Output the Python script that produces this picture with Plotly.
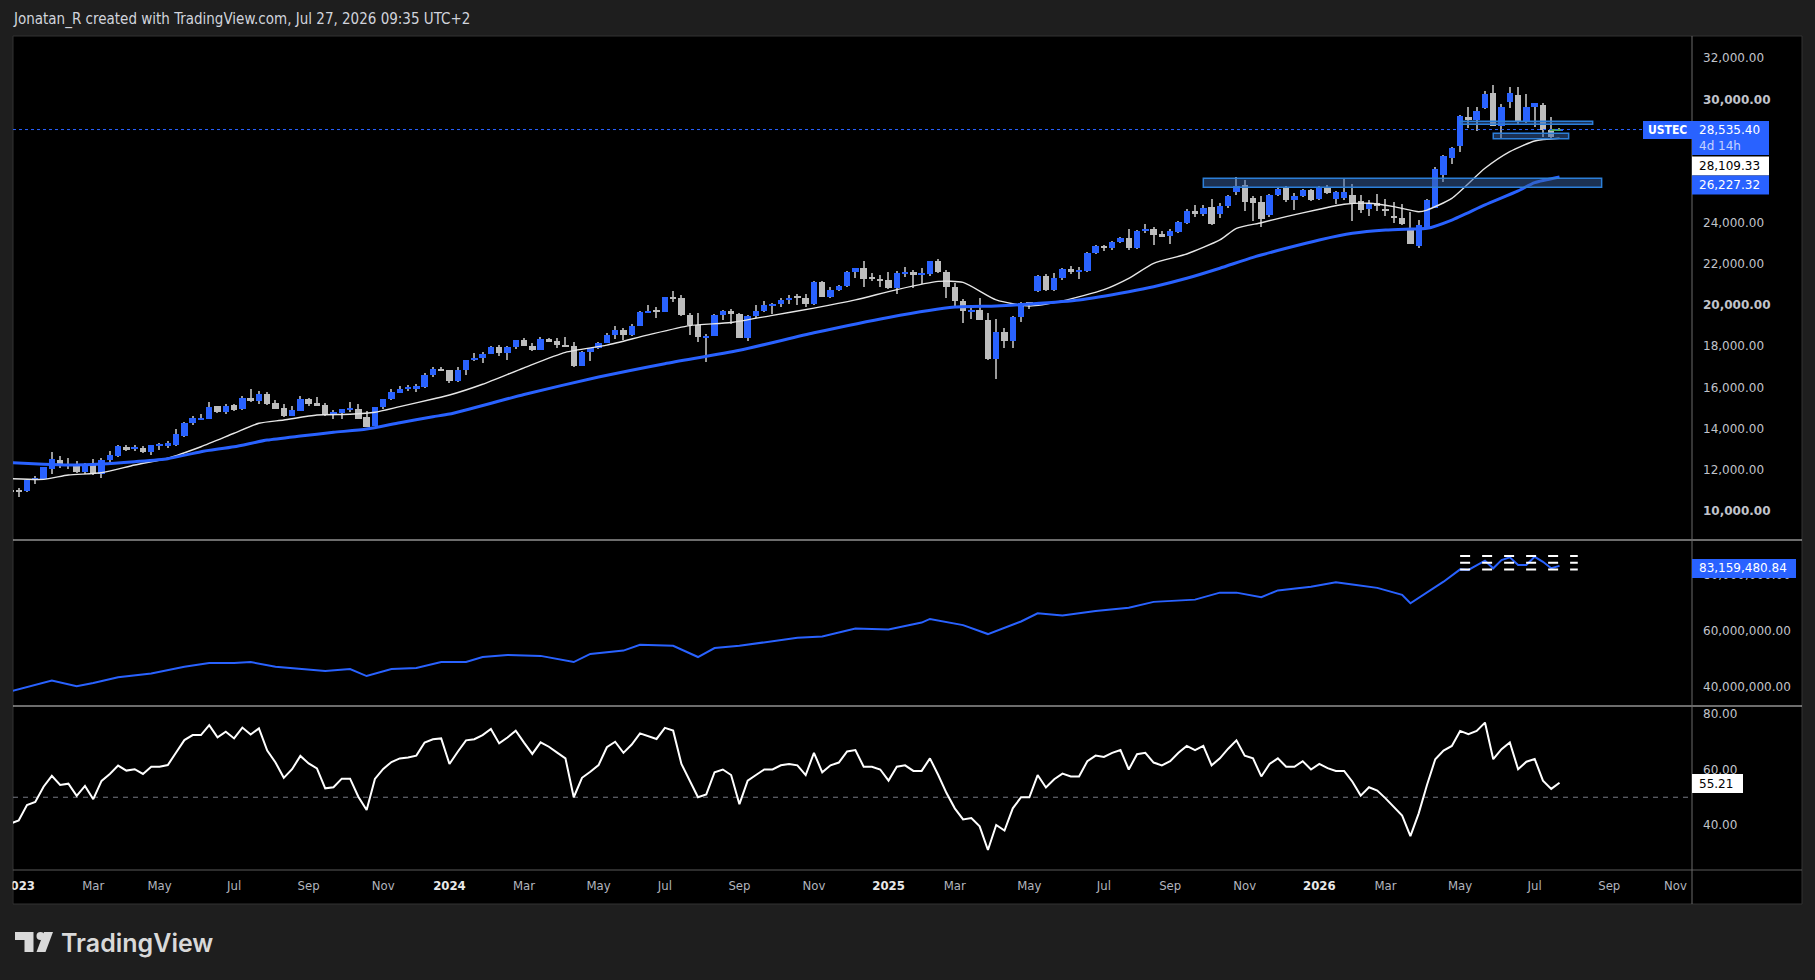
import pandas as pd
import plotly.graph_objects as go

W, H = 1815, 980

# ---------------- data (weekly bars, first bar = week of 2022-12-26) ----------------
first_week = "2022-12-26"
opens = [11000, 10980, 10950, 11500, 11525, 12040, 12465, 12240, 12270, 11895,
         12205, 11785, 12465, 12675, 13080, 13040, 13050, 12855, 13180, 13160,
         13210, 13650, 14280, 14440, 14475, 15090, 14815, 15150, 14930, 15465,
         15350, 15675, 15220, 14995, 14620, 14860, 15430, 15220, 15140, 14720,
         14740, 14900, 14930, 14540, 14135, 15060, 15445, 15740, 15920, 15950,
         16000, 16620, 16880, 16826, 16300, 16830, 17310, 17420, 17640, 17960,
         17690, 17940, 18300, 18000, 17810, 18340, 18250, 18050, 18000, 17040,
         17720, 17890, 18160, 18550, 18810, 18540, 19000, 19660, 19700, 19680,
         20390, 20330, 19520, 19020, 18440, 18510, 19510, 19720, 19570, 18420,
         19460, 19690, 20000, 20060, 20270, 20360, 20350, 20030, 21120, 20390,
         20740, 20930, 21620, 21780, 21290, 21280, 21200, 20850, 21540, 21600,
         21480, 21490, 22120, 21610, 20880, 20200, 19700, 19750, 19280, 17400,
         18690, 18260, 19430, 20100, 20700, 21430, 20740, 21340, 21760, 21630,
         21640, 22530, 22870, 22780, 23070, 23270, 22760, 23610, 23700, 23440,
         23360, 23570, 23990, 24575, 24430, 24770, 24430, 24820, 25500, 25840,
         25190, 25010, 24380, 25350, 25700, 25110, 25320, 25600, 25160, 25730,
         25160, 25220, 25350, 25040, 24690, 24980, 24620, 24280, 24220, 23700,
         22890, 23780, 24735, 26325, 27165, 27750, 29150, 29015, 29600, 30310,
         28720, 29890, 30215, 28920, 29630, 29730, 28515, 28500]
highs = [11080, 11100, 11560, 11700, 12130, 12855, 12640, 12560, 12400, 12300,
         12500, 12580, 12880, 13190, 13200, 13200, 13150, 13200, 13280, 13400,
         13960, 14300, 14600, 14700, 15280, 15100, 15200, 15180, 15600, 15930,
         15800, 15750, 15400, 15200, 15100, 15600, 15470, 15550, 15250, 14900,
         14950, 15300, 15200, 14850, 15050, 15450, 15900, 16050, 16120, 16150,
         16700, 16970, 16970, 16850, 16970, 17340, 17660, 17700, 18000, 18050,
         18000, 18320, 18420, 18150, 18460, 18400, 18380, 18450, 18220, 17770,
         17900, 18200, 18640, 19000, 18900, 19100, 19720, 19980, 19900, 20400,
         20690, 20480, 19600, 19600, 18600, 19550, 19750, 19790, 19600, 19500,
         19990, 20200, 20100, 20320, 20470, 20550, 20560, 21150, 21180, 20900,
         20970, 21650, 21800, 22130, 21550, 21480, 21620, 21640, 21840, 21700,
         21800, 22130, 22220, 21700, 21080, 20280, 20000, 20350, 19600, 19340,
         18880, 19480, 20150, 20150, 21450, 21500, 21550, 21800, 21900, 21850,
         22580, 22900, 22900, 23100, 23300, 23700, 23630, 23930, 23810, 23600,
         23700, 24100, 24650, 24850, 24850, 25150, 24980, 25350, 26210, 26080,
         25290, 25300, 25400, 25700, 25790, 25430, 25650, 25650, 25780, 25850,
         25550, 26165, 25890, 25350, 25100, 25400, 25140, 25030, 24900, 24540,
         24140, 25150, 26700, 27300, 27700, 29240, 29620, 29650, 30410, 30700,
         29780, 30590, 30620, 30260, 29825, 29825, 29150, 28620]
lows = [10680, 10650, 10900, 11300, 11480, 11770, 12100, 12050, 11850, 11800,
        11720, 11600, 12350, 12600, 12920, 12880, 12800, 12700, 12950, 13050,
        13150, 13600, 14150, 14400, 14450, 14750, 14700, 14850, 14880, 15300,
        15200, 15150, 14950, 14550, 14600, 14850, 15080, 15080, 14600, 14450,
        14450, 14800, 14450, 14050, 14100, 14950, 15400, 15700, 15800, 15750,
        15950, 16500, 16790, 16200, 16250, 16600, 17280, 17200, 17600, 17500,
        17350, 17840, 17990, 17770, 17810, 18200, 17900, 17960, 17010, 17040,
        17300, 17850, 18150, 18350, 18300, 18500, 19000, 19630, 19360, 19650,
        20140, 19480, 18560, 18200, 17250, 18480, 19250, 19100, 18400, 18250,
        19350, 19650, 19560, 19900, 20050, 20020, 19900, 20000, 20380, 20320,
        20700, 20900, 21300, 20900, 21180, 20900, 20790, 20540, 21360, 20840,
        21040, 21400, 21580, 20350, 19950, 19150, 19300, 19250, 17350, 16400,
        17900, 17920, 19200, 19800, 20650, 20700, 20700, 21200, 21500, 21250,
        21600, 22500, 22650, 22670, 23000, 22700, 22740, 23500, 22920, 23300,
        22950, 23500, 23950, 24300, 24350, 23900, 24210, 24700, 25350, 24590,
        24100, 23810, 24300, 25300, 25000, 24620, 25250, 25050, 25100, 25400,
        24900, 25100, 24100, 24460, 24330, 24590, 24330, 23980, 23900, 22950,
        22760, 23700, 24700, 26000, 26845, 27460, 28625, 28480, 29550, 28700,
        28140, 29570, 28805, 28850, 28670, 28190, 28060, 28470]
closes = [10950, 10950, 11495, 11560, 12110, 12500, 12175, 12200, 11895, 12270,
          11785, 12465, 12690, 13145, 12950, 13060, 12870, 13180, 13220, 13280,
          13730, 14250, 14505, 14470, 15030, 14815, 15090, 14900, 15465, 15335,
          15675, 15200, 14960, 14620, 14900, 15430, 15190, 15100, 14650, 14750,
          14930, 15000, 14475, 14085, 15030, 15415, 15770, 15905, 16030, 16040,
          16620, 16880, 16826, 16300, 16830, 17310, 17420, 17640, 17960, 17690,
          17940, 18300, 18000, 17810, 18340, 18250, 18050, 18000, 17040, 17720,
          17890, 18160, 18550, 18810, 18540, 19000, 19660, 19700, 19680, 20390,
          20330, 19520, 19020, 18440, 18510, 19510, 19720, 19570, 18420, 19460,
          19690, 20000, 20060, 20270, 20360, 20350, 20030, 21120, 20390, 20740,
          20930, 21620, 21780, 21290, 21280, 21200, 20850, 21540, 21600, 21480,
          21490, 22120, 21610, 20880, 20200, 19700, 19750, 19280, 17400, 18690,
          18260, 19430, 20100, 20060, 21430, 20740, 21340, 21760, 21630, 21640,
          22530, 22870, 22780, 23070, 23270, 22760, 23610, 23710, 23410, 23325,
          23600, 24040, 24575, 24430, 24705, 23940, 24820, 25300, 25790, 25030,
          24980, 24200, 25350, 25630, 25110, 25300, 25600, 25110, 25730, 25460,
          25480, 25480, 24950, 24620, 24950, 24830, 24610, 24270, 23930, 22985,
          23890, 25110, 26620, 27250, 27620, 29195, 29015, 29440, 30260, 28720,
          29630, 30310, 28935, 29630, 29825, 28515, 28160, 28535]

# RSI, one value per weekly bar (same bars as above)
rsi_values = [40.5,
              41.6, 47.2, 48.3, 53.8, 57.7, 54.4, 54.9, 50.5, 54.1, 49.3,
              55.9, 58.4, 61.4, 59.6, 60.1, 58.4, 61.0, 61.0, 61.6, 66.1,
              70.6, 72.4, 72.4, 76.0, 71.6, 73.6, 71.2, 75.1, 72.6, 74.8,
              66.8, 62.5, 57.0, 60.1, 64.9, 62.2, 60.4, 53.2, 53.6, 56.7,
              56.7, 50.2, 45.4, 56.6, 60.2, 62.7, 64.0, 64.3, 65.0, 69.7,
              70.9, 71.2, 62.0, 66.4, 70.5, 70.9, 72.4, 74.6, 69.4, 71.5,
              74.0, 69.7, 65.6, 69.8, 68.2, 66.1, 64.0, 50.0, 57.0, 59.2,
              61.6,
              68, 70, 66, 69, 73, 72, 71, 75, 74,
              62, 56, 50, 51, 59, 60, 58, 47.5, 56, 58,
              60, 60, 61.5, 62, 61.5, 58, 66, 59, 61.5, 62.5,
              66.5, 67, 61, 61, 60, 56, 61, 61.5, 59.5, 59.5,
              64, 58, 51.5, 46, 42, 42.5, 39.5, 31, 40, 38,
              46, 50, 50, 58, 53.5, 56.5, 58.5, 57.5, 57.5, 63,
              65, 64.5, 66, 67, 60, 65.5, 66, 62.5, 61.5, 63,
              66, 68.5, 67, 68.5, 61.5, 64, 67.5, 70.5, 65, 64,
              57.5, 62, 64, 61, 61, 63, 60, 62, 60.5, 59.5,
              59.5,
              55.6, 50.6, 53.6, 52.4, 49.6, 46.6, 43.4, 36.0, 44.2, 54.4,
              63.7, 66.8, 68.5, 73.9, 72.7, 73.9, 76.9, 63.7, 67.3, 69.7,
              60.1, 62.8, 63.8, 56.0, 53.0, 55.2]

# moving averages (week number counted from 2023-01-02)
white_ma_weeks = [-1, 3, 6, 10, 14, 18, 22, 26, 29, 32, 36, 40, 43, 46, 50, 52, 56, 61, 66, 71,
                  76, 81, 86, 91, 96, 101, 106, 111, 114, 118, 122, 126, 131, 134, 137, 141, 145,
                  147, 150, 153, 157, 160, 163, 166, 169, 170, 173, 177, 180, 183, 186]
white_ma_values = [11560, 11525, 11735, 11845, 12220, 12550, 13110, 13765, 14250, 14410,
                   14655, 14690, 14785, 15060, 15430, 15625, 16150, 16950, 17700, 18050,
                   18550, 19000, 19150, 19500, 19850, 20250, 20750, 21150, 21100, 20250,
                   19950, 20200, 20750, 21300, 22030, 22483, 23165, 23730, 24005, 24300,
                   24660, 24900, 24950, 24785, 24540, 24620, 25190, 26650, 27460, 27980, 28109]
blue_ma_weeks = [-1, 3, 6, 10, 14, 18, 22, 26, 30, 34, 38, 42, 46, 50, 52, 61, 70, 78, 87, 96,
                 105, 113, 118, 122, 128, 134, 137, 141, 145, 149, 153, 157, 161, 165, 168, 170,
                 173, 177, 181, 183, 186]
blue_ma_values = [12335, 12255, 12220, 12270, 12385, 12530, 12870, 13110, 13435, 13630,
                  13810, 13970, 14280, 14570, 14700, 15650, 16500, 17150, 17800, 18650,
                  19400, 19900, 19950, 20050, 20250, 20650, 20890, 21300, 21790, 22320,
                  22760, 23165, 23490, 23650, 23700, 23730, 24135, 24870, 25550, 25950, 26227]

# middle-pane indicator (millions), week number counted from 2023-01-02
flow_weeks = [-1, 4, 7, 9, 12, 16, 20, 23, 26, 28, 31, 34, 37, 40, 42, 45, 48, 51, 54, 56,
              59, 63, 67, 69, 73, 75, 79, 82, 84, 87, 90, 94, 97, 101, 105, 109, 110, 114, 117, 118,
              121, 123, 126, 130, 134, 137, 142, 145, 147, 150, 152, 156, 159, 161, 164, 167, 168,
              172, 174, 175, 177, 178, 179, 180, 181, 182, 183, 184, 185, 186]
flow_values = [38.3, 42.2, 40.2, 41.3, 43.4, 44.7, 47.1, 48.5, 48.5, 48.8,
               47.1, 46.3, 45.6, 46.3, 43.8, 46.3, 46.7, 48.8, 48.8, 50.6,
               51.3, 51.0, 48.8, 51.7, 52.9, 55.0, 54.6, 50.6, 53.8, 54.6,
               55.8, 57.5, 57.9, 60.8, 60.4, 62.9, 64.2, 62.0, 58.8, 59.9,
               63.3, 66.2, 65.4, 67.0, 68.2, 70.3, 71.1, 73.6, 73.6, 72.0,
               74.4, 75.7, 77.3, 76.5, 75.3, 72.8, 69.8, 77.5, 81.9, 81.7,
               85.0, 82.3, 85.2, 86.2, 83.5, 83.5, 86.4, 84.6, 82.3, 83.16]
flow_levels = [86.7, 84.3, 81.9]
flow_levels_start, flow_levels_end = "2026-05-04", "2026-08-11 10:00"

# zones drawn on the price pane
zone_x0 = ["2025-09-29", "2026-05-04", "2026-06-01"]
zone_x1 = ["2026-08-31 14:00", "2026-08-24", "2026-08-03 17:00"]
zone_y0 = [25727, 28790, 28090]
zone_y1 = [26165, 28937, 28353]

# short green marker at the last bars
marker_x = ["2026-07-18 18:00", "2026-07-28 00:00"]
marker_y = 28515

last_price = 28535.40
last_white_ma = 28109.33
last_blue_ma = 26227.32
last_flow = 83159480.84
last_rsi = 55.21

tick_dates = ["2023-01-02", "2023-03-06", "2023-05-01", "2023-07-03", "2023-09-04", "2023-11-06",
              "2024-01-01", "2024-03-04", "2024-05-06", "2024-07-01", "2024-09-02", "2024-11-04",
              "2025-01-06", "2025-03-03", "2025-05-05", "2025-07-07", "2025-09-01", "2025-11-03",
              "2026-01-05", "2026-03-02", "2026-05-04", "2026-07-06", "2026-09-07", "2026-11-02"]
tick_labels = ["2023", "Mar", "May", "Jul", "Sep", "Nov", "2024", "Mar", "May", "Jul", "Sep", "Nov",
               "2025", "Mar", "May", "Jul", "Sep", "Nov", "2026", "Mar", "May", "Jul", "Sep", "Nov"]
price_ticks = [10000, 12000, 14000, 16000, 18000, 20000, 22000, 24000, 30000, 32000]
flow_ticks = [40, 60, 80]
rsi_ticks = [40, 60, 80]

# ---------------- geometry ----------------
BLUE = "#2962FF"
GRAY = "#BDBDBD"
WICK = "#9a9a9a"
FONT_AX = "DejaVu Sans"
FONT_COND = "DejaVu Sans Condensed, DejaVu Sans"

def px(x):
    return x / W

def py(y):
    return 1 - y / H

base = pd.Timestamp("2023-01-02")
PX_PER_WEEK = 8.284
X0_PX = 18.7            # pixel of the 2023-01-02 bar
def date_at(xpix):
    return base + pd.Timedelta(days=(xpix - X0_PX) / PX_PER_WEEK * 7)

x_range = [date_at(13), date_at(1692)]
week_ms = 7 * 86400000
px_ms = week_ms / PX_PER_WEEK

dates = [pd.Timestamp(first_week) + pd.Timedelta(weeks=i) for i in range(len(closes))]
def wk(lst):
    return [base + pd.Timedelta(weeks=i) for i in lst]

body_base = [min(o, c) for o, c in zip(opens, closes)]
body_h = [max(abs(c - o), 45) for o, c in zip(opens, closes)]
body_col = [BLUE if c >= o else GRAY for o, c in zip(opens, closes)]

fig = go.Figure()

# wicks
fig.add_trace(go.Bar(x=dates, y=[h - l for h, l in zip(highs, lows)], base=lows,
                     width=1.2 * px_ms, marker=dict(color=WICK, line=dict(width=0)),
                     xaxis="x", yaxis="y", hoverinfo="skip"))
# bodies
fig.add_trace(go.Bar(x=dates, y=body_h, base=body_base, width=6.4 * px_ms,
                     marker=dict(color=body_col, line=dict(width=0)),
                     xaxis="x", yaxis="y", hoverinfo="skip"))
# moving averages
fig.add_trace(go.Scatter(x=wk(white_ma_weeks), y=white_ma_values, mode="lines",
                         line=dict(color="#e6e6e6", width=1.4, shape="spline", smoothing=0.6),
                         xaxis="x", yaxis="y", hoverinfo="skip"))
fig.add_trace(go.Scatter(x=wk(blue_ma_weeks), y=blue_ma_values, mode="lines",
                         line=dict(color=BLUE, width=3, shape="spline", smoothing=0.6),
                         xaxis="x", yaxis="y", hoverinfo="skip"))
# green marker near the last bars
fig.add_trace(go.Scatter(x=[pd.Timestamp(v) for v in marker_x], y=[marker_y, marker_y], mode="lines",
                         line=dict(color="#4caf50", width=2), xaxis="x", yaxis="y", hoverinfo="skip"))
# middle pane
fig.add_trace(go.Scatter(x=wk(flow_weeks), y=flow_values, mode="lines",
                         line=dict(color=BLUE, width=2),
                         xaxis="x2", yaxis="y2", hoverinfo="skip"))
for lv in flow_levels:
    fig.add_trace(go.Scatter(x=[pd.Timestamp(flow_levels_start), pd.Timestamp(flow_levels_end)],
                             y=[lv, lv], mode="lines",
                             line=dict(color="#ffffff", width=2, dash="10px,12px"),
                             xaxis="x2", yaxis="y2", hoverinfo="skip"))
# RSI
fig.add_trace(go.Scatter(x=dates, y=rsi_values, mode="lines",
                         line=dict(color="#ffffff", width=2),
                         xaxis="x3", yaxis="y3", hoverinfo="skip"))

shapes = []
# black chart panel
shapes.append(dict(type="rect", xref="paper", yref="paper", x0=px(13), x1=px(1802),
                   y0=py(904), y1=py(36), fillcolor="#000000",
                   line=dict(color="#333333", width=1), layer="below"))
# zones
for x0, x1, y0, y1 in zip(zone_x0, zone_x1, zone_y0, zone_y1):
    shapes.append(dict(type="rect", xref="x", yref="y", x0=x0, x1=x1, y0=y0, y1=y1,
                       fillcolor="rgba(56,98,164,0.5)", line=dict(color="#2c7fd8", width=1.5),
                       layer="above"))
# last price dotted line
shapes.append(dict(type="line", xref="x domain", yref="y", x0=0, x1=1, y0=last_price, y1=last_price,
                   line=dict(color=BLUE, width=1, dash="dot"), layer="above"))
# RSI mid line
shapes.append(dict(type="line", xref="x3 domain", yref="y3", x0=0, x1=1, y0=50, y1=50,
                   line=dict(color="#787b86", width=1, dash="5px,5px"), layer="below"))
# pane separators
for yy, col in [(540, "#d9d9d9"), (706, "#d9d9d9"), (870, "#5a5a5a")]:
    shapes.append(dict(type="line", xref="paper", yref="paper", x0=px(13), x1=px(1802),
                       y0=py(yy), y1=py(yy), line=dict(color=col, width=1), layer="above"))
shapes.append(dict(type="line", xref="paper", yref="paper", x0=px(1692), x1=px(1692),
                   y0=py(904), y1=py(36), line=dict(color="#6a6a6a", width=1), layer="above"))
# cover for clipped first time label
shapes.append(dict(type="rect", xref="paper", yref="paper", x0=0, x1=px(12.5), y0=py(904), y1=py(871),
                   fillcolor="#1e1e1e", line=dict(width=0), layer="above"))

# price-scale label boxes
def box(x0, x1, y0, y1, col):
    shapes.append(dict(type="rect", xref="paper", yref="paper", x0=px(x0), x1=px(x1),
                       y0=py(y1), y1=py(y0), fillcolor=col, line=dict(width=0), layer="above"))

box(1643, 1692, 121, 139, BLUE)
box(1692, 1769, 121, 155, BLUE)
box(1692, 1769, 156.5, 175.5, "#ffffff")
box(1692, 1769, 175.5, 194.5, BLUE)
box(1692, 1796, 559, 578, BLUE)
box(1692, 1743, 774, 793, "#ffffff")

# TradingView logo
def path(points):
    return "M " + " L ".join(f"{px(x):.6f},{py(y):.6f}" for x, y in points) + " Z"

logo_col = "#d9d9d9"
shapes.append(dict(type="path", xref="paper", yref="paper",
                   path=path([(15, 932), (33.5, 932), (33.5, 952), (24.5, 952), (24.5, 940), (15, 940)]),
                   fillcolor=logo_col, line=dict(width=0)))
shapes.append(dict(type="circle", xref="paper", yref="paper", x0=px(36.5), x1=px(44.5),
                   y0=py(940), y1=py(932), fillcolor=logo_col, line=dict(width=0)))
shapes.append(dict(type="path", xref="paper", yref="paper",
                   path=path([(44, 932), (53, 932), (45.5, 952), (36.5, 952)]),
                   fillcolor=logo_col, line=dict(width=0)))

annotations = []
def text(x, y, s, size=12, color="#ffffff", family=FONT_AX, anchor="left", weight=None):
    f = dict(size=size, color=color, family=family)
    if weight:
        f["weight"] = weight
    annotations.append(dict(xref="paper", yref="paper", x=px(x), y=py(y), text=s, showarrow=False,
                            xanchor=anchor, yanchor="middle", font=f))

text(11, 19.5, "Jonatan_R created with TradingView.com, Jul 27, 2026 09:35 UTC+2", size=15,
     color="#d1d4dc", family=FONT_COND)
text(1667.5, 130, "<b>USTEC</b>", size=12, anchor="center", family=FONT_COND)
text(1697, 130, f"{last_price:,.2f}")
text(1697, 146, "4d 14h", color="#c6d2ff")
text(1697, 166, f"{last_white_ma:,.2f}", color="#000000")
text(1697, 185, f"{last_blue_ma:,.2f}")
text(1697, 568, f"{last_flow:,.2f}")
text(1697, 783.5, f"{last_rsi:.2f}", color="#000000")
text(59, 943, "TradingView", size=25, color=logo_col, family="Inter", weight=600)

price_text = [f"<b>{v:,.2f}</b>" if v in (10000, 20000, 30000) else f"{v:,.2f}" for v in price_ticks]
tick_text = [f"<b><span style='color:#e8e8e8'>{t}</span></b>" if t.isdigit() else t for t in tick_labels]

axis_common = dict(showgrid=False, zeroline=False, showline=False, automargin=False)
yaxis_common = dict(side="right", ticks="", ticklabelstandoff=10,
                    tickfont=dict(family=FONT_AX, size=12, color="#c0c3cb"), **axis_common)

fig.update_layout(
    width=W, height=H, margin=dict(l=0, r=0, t=0, b=0, pad=0, autoexpand=False),
    paper_bgcolor="#1e1e1e", plot_bgcolor="#000000",
    showlegend=False, barmode="overlay", bargap=0, hovermode=False,
    xaxis=dict(domain=[px(13), px(1692)], range=x_range, type="date", anchor="y",
               showticklabels=False, **axis_common),
    xaxis2=dict(domain=[px(13), px(1692)], matches="x", type="date", anchor="y2",
                showticklabels=False, **axis_common),
    xaxis3=dict(domain=[px(13), px(1692)], matches="x", type="date", anchor="y3",
                tickmode="array", tickvals=tick_dates, ticktext=tick_text, ticks="",
                ticklabelstandoff=6,
                tickfont=dict(family=FONT_COND, size=13, color="#b2b5be"), **axis_common),
    yaxis=dict(domain=[py(540), py(36)], range=[8575, 33084], anchor="x",
               tickmode="array", tickvals=price_ticks, ticktext=price_text, **yaxis_common),
    yaxis2=dict(domain=[py(706), py(540)], range=[33.1, 92.4], anchor="x2",
                tickmode="array", tickvals=flow_ticks,
                ticktext=[f"{v * 1e6:,.2f}" for v in flow_ticks], **yaxis_common),
    yaxis3=dict(domain=[py(870), py(706)], range=[23.78, 82.88], anchor="x3",
                tickmode="array", tickvals=rsi_ticks,
                ticktext=[f"{v:.2f}" for v in rsi_ticks], **yaxis_common),
    shapes=shapes, annotations=annotations,
)

fig.write_html("out.html")
